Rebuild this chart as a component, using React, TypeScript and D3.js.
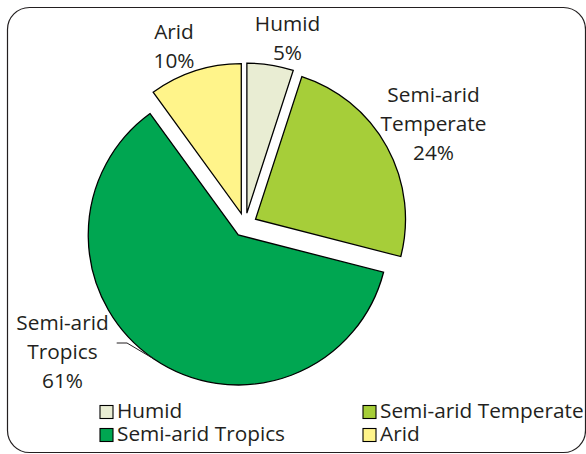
import React from "react";
import * as d3 from "d3";

// ---- data ----
const categories = ["Humid", "Semi-arid Temperate", "Semi-arid Tropics", "Arid"];
const values = [5, 24, 61, 10];
const labelNames = [["Humid"], ["Semi-arid", "Temperate"], ["Semi-arid", "Tropics"], ["Arid"]];
const colors = ["#e9edd3", "#a6ce39", "#00a651", "#fff48a"];

// ---- layout ----
const W = 586;
const H = 454;
const CX = 245;
const CY = 225;
const R = 150;
const EXPLODE = 12;
const FONT = "'Open Sans', 'DejaVu Sans', sans-serif";
const FS = 20.8;
const LINE = 29;
const INK = "#231f20";
// label anchor (center x, first baseline y) per slice
const labelAnchors = [
  [287.5, 30.7],
  [433.5, 101.7],
  [62.5, 330],
  [174, 39.3],
];

export default function App() {
  const pie = d3
    .pie<number>()
    .sort(null)
    .value((d) => d)
    .startAngle(0)
    .endAngle(2 * Math.PI);
  const arcs = pie(values);
  const arc = d3.arc<d3.PieArcDatum<number>>().innerRadius(0).outerRadius(R);

  const offsets = arcs.map((a) => {
    const m = (a.startAngle + a.endAngle) / 2;
    return [Math.sin(m) * EXPLODE, -Math.cos(m) * EXPLODE];
  });

  // leader for Semi-arid Tropics
  const ti = 2;
  const tm = (arcs[ti].startAngle + arcs[ti].endAngle) / 2;
  const tEnd = [
    CX + offsets[ti][0] + Math.sin(tm) * R,
    CY + offsets[ti][1] - Math.cos(tm) * R,
  ];
  const leader = d3.line()([
    [116.7, 343],
    [127, 343],
    [tEnd[0], tEnd[1]],
  ] as [number, number][]);

  return (
    <svg
      width={W}
      height={H}
      style={{ position: "absolute", left: 0, top: 0, display: "block", background: "#fff" }}
      fontFamily={FONT}
    >
      <rect
        x={7.5}
        y={7.5}
        width={578}
        height={445}
        rx={22}
        ry={22}
        fill="#fff"
        stroke={INK}
        strokeWidth={1.2}
      />
      <g transform={`translate(${CX},${CY})`}>
        {arcs.map((a, i) => (
          <path
            key={categories[i]}
            d={arc(a) || ""}
            transform={`translate(${offsets[i][0]},${offsets[i][1]})`}
            fill={colors[i]}
            stroke="#000"
            strokeWidth={1.3}
            strokeLinejoin="miter"
          />
        ))}
      </g>
      <path d={leader || ""} fill="none" stroke={INK} strokeWidth={1} />
      {labelNames.map((lines, i) => {
        const all = [...lines, `${values[i]}%`];
        return (
          <text
            key={"lab" + i}
            x={labelAnchors[i][0]}
            y={labelAnchors[i][1]}
            textAnchor="middle"
            fontSize={FS}
            fill={INK}
          >
            {all.map((t, k) => (
              <tspan key={k} x={labelAnchors[i][0]} y={labelAnchors[i][1] + k * LINE}>
                {t}
              </tspan>
            ))}
          </text>
        );
      })}
      {categories.map((c, i) => {
        const col = i % 2;
        const row = Math.floor(i / 2);
        const sx = col === 0 ? 100 : 363;
        const by = 418 + row * 23;
        return (
          <g key={"leg" + c}>
            <rect
              x={sx}
              y={by - 12.5}
              width={13}
              height={13}
              fill={colors[i]}
              stroke="#000"
              strokeWidth={1.1}
            />
            <text x={sx + 17} y={by} fontSize={FS} fill={INK}>
              {c}
            </text>
          </g>
        );
      })}
    </svg>
  );
}
